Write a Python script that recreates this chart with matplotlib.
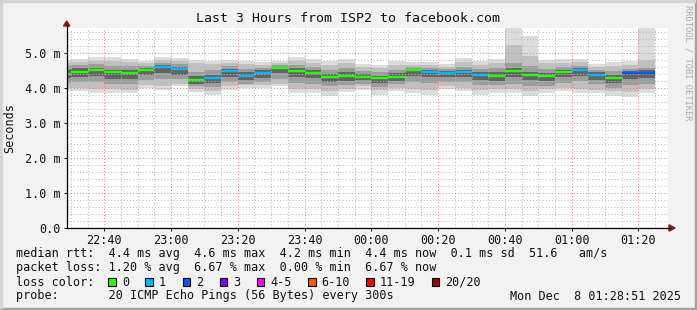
import numpy as np
import pandas as pd
import matplotlib
matplotlib.use("Agg")
import matplotlib.pyplot as plt
import matplotlib.dates as mdates
from matplotlib.lines import Line2D
from matplotlib.patches import Rectangle, Polygon
from matplotlib.ticker import MultipleLocator, FuncFormatter

plt.rcParams['font.family'] = ['DejaVu Sans Mono', 'DejaVu Sans']

# --- data (ms), one entry per 5 min step, first step is partial ---
t_start = pd.Timestamp("2025-12-07 22:28:51")
t_end = pd.Timestamp("2025-12-08 01:28:51")
bin_ends = pd.date_range("2025-12-07 22:30", "2025-12-08 01:25", freq="5min")

median = [4.40, 4.45, 4.50, 4.45, 4.42, 4.50, 4.59, 4.53, 4.22, 4.27, 4.47, 4.33,
          4.42, 4.57, 4.48, 4.42, 4.30, 4.33, 4.31, 4.27, 4.32, 4.50, 4.44, 4.42,
          4.44, 4.36, 4.33, 4.47, 4.36, 4.33, 4.44, 4.50, 4.36, 4.27, 4.42, 4.42]
loss = [0, 0, 0, 0, 0, 0, 1, 1, 0, 1, 1, 1, 1, 0, 0, 0, 0, 0, 0, 0, 0, 0, 1, 1,
        1, 1, 0, 0, 0, 0, 0, 1, 1, 0, 2, 2]

# smoke bands: (low, high) of outer .. inner ping pairs
smoke_min = [3.90, 3.90, 3.86, 3.86, 3.84, 4.00, 3.95, 4.05, 3.87, 3.81, 3.95, 4.00,
             4.00, 4.05, 3.86, 3.84, 3.78, 3.87, 3.95, 3.81, 3.90, 3.86, 3.81, 3.97,
             3.90, 3.81, 3.86, 3.86, 3.78, 3.86, 3.90, 3.86, 3.84, 3.76, 3.73, 3.86]
smoke_max = [4.81, 4.83, 4.87, 4.87, 4.83, 4.78, 4.88, 4.86, 4.81, 4.78, 4.81, 4.78,
             4.73, 4.78, 4.88, 4.83, 4.78, 4.83, 4.67, 4.65, 4.76, 4.74, 4.74, 4.67,
             4.85, 4.76, 4.83, 5.71, 5.48, 4.79, 4.83, 4.83, 4.69, 4.73, 4.76, 5.71]
p10 = [4.00, 4.00, 3.97, 3.98, 3.95, 4.08, 4.05, 4.12, 3.98, 3.92, 4.05, 4.08,
       4.08, 4.12, 3.98, 3.96, 3.92, 3.98, 4.04, 3.94, 4.00, 3.98, 3.94, 4.05,
       4.00, 3.94, 3.98, 3.98, 3.92, 3.98, 4.00, 3.98, 3.95, 3.90, 3.88, 3.98]
p90 = [4.72, 4.74, 4.77, 4.76, 4.73, 4.70, 4.80, 4.76, 4.70, 4.68, 4.72, 4.68,
       4.65, 4.70, 4.78, 4.72, 4.66, 4.72, 4.60, 4.58, 4.66, 4.66, 4.65, 4.60,
       4.74, 4.66, 4.72, 5.22, 4.90, 4.70, 4.72, 4.74, 4.60, 4.62, 4.66, 4.80]
p25 = [4.15, 4.17, 4.18, 4.12, 4.10, 4.22, 4.25, 4.25, 4.05, 4.02, 4.18, 4.12,
       4.17, 4.25, 4.15, 4.10, 4.05, 4.08, 4.12, 4.03, 4.10, 4.18, 4.15, 4.17,
       4.16, 4.08, 4.08, 4.12, 4.05, 4.06, 4.15, 4.20, 4.10, 4.00, 4.08, 4.12]
p75 = [4.62, 4.65, 4.68, 4.63, 4.62, 4.63, 4.72, 4.68, 4.45, 4.50, 4.63, 4.55,
       4.58, 4.66, 4.65, 4.60, 4.52, 4.57, 4.48, 4.45, 4.52, 4.60, 4.57, 4.53,
       4.60, 4.55, 4.58, 4.70, 4.62, 4.53, 4.60, 4.63, 4.52, 4.48, 4.55, 4.58]
p40 = [4.28, 4.30, 4.35, 4.25, 4.25, 4.38, 4.42, 4.38, 4.12, 4.15, 4.32, 4.22,
       4.28, 4.42, 4.32, 4.28, 4.18, 4.20, 4.22, 4.15, 4.20, 4.35, 4.30, 4.30,
       4.30, 4.22, 4.20, 4.30, 4.22, 4.20, 4.30, 4.35, 4.22, 4.15, 4.25, 4.28]
p60 = [4.52, 4.56, 4.58, 4.52, 4.52, 4.56, 4.65, 4.60, 4.33, 4.38, 4.55, 4.44,
       4.50, 4.60, 4.56, 4.50, 4.40, 4.44, 4.40, 4.35, 4.42, 4.54, 4.50, 4.48,
       4.52, 4.44, 4.44, 4.56, 4.46, 4.42, 4.52, 4.56, 4.44, 4.38, 4.48, 4.50]

loss_labels = ["0", "1", "2", "3", "4-5", "6-10", "11-19", "20/20"]
loss_colors = ["#26ff00", "#00b8ff", "#0059ff", "#7e00ff", "#ff00ff", "#ff5500",
               "#ff0000", "#a00000"]

title = "Last 3 Hours from ISP2 to facebook.com"
legend_lines = [
    "median rtt:  4.4 ms avg  4.6 ms max  4.2 ms min  4.4 ms now  0.1 ms sd  51.6   am/s",
    "packet loss: 1.20 % avg  6.67 % max  0.00 % min  6.67 % now",
    "loss color:",
    "probe:       20 ICMP Echo Pings (56 Bytes) every 300s",
]
stamp = "Mon Dec  8 01:28:51 2025"

# --- layout in pixels ---
W, H = 697, 310
def fx(x):
    return x / W
def fy(y):
    return 1 - y / H

fig = plt.figure(figsize=(W / 100, H / 100), dpi=100, facecolor="#f2f2f2")
ax = fig.add_axes([fx(67), fy(228), (668 - 67) / W, 200 / H])
ax.set_facecolor("white")

edges = mdates.date2num([t_start] + list(bin_ends))
bands = [(smoke_min, smoke_max, "#dcdcdc"), (p10, p90, "#c0c0c0"),
         (p25, p75, "#9c9c9c"), (p40, p60, "#636363")]
for lo, hi, c in bands:
    ax.stairs(hi, edges, baseline=lo, fill=True, color=c, lw=0, zorder=1)

med_colors = [loss_colors[min(l, 3)] for l in loss]
ax.hlines(median, edges[:-1], edges[1:], colors=med_colors, lw=1.7, zorder=4)

ax.set_xlim(mdates.date2num(t_start), mdates.date2num(t_end))
ax.set_ylim(0, 5.71)

ax.yaxis.set_major_locator(MultipleLocator(1.0))
ax.yaxis.set_minor_locator(MultipleLocator(0.2))
ax.yaxis.set_major_formatter(FuncFormatter(lambda v, p: "0.0" if v == 0 else "%.1f m" % v))
ax.xaxis.set_major_locator(mdates.MinuteLocator(byminute=[0, 20, 40]))
ax.xaxis.set_minor_locator(mdates.MinuteLocator(byminute=range(0, 60, 5)))
ax.xaxis.set_major_formatter(mdates.DateFormatter("%H:%M"))

ax.grid(which="minor", color="#bcbcbc", linestyle=(0, (1, 2)), lw=0.75, zorder=2)
ax.grid(which="major", color="#ee8080", linestyle=(0, (1, 2)), lw=0.75, zorder=2)
ax.set_axisbelow(False)

ax.tick_params(which="major", direction="out", length=2.5, width=0.7, pad=2,
               labelsize=8.5, colors="#111111")
ax.tick_params(which="minor", length=0)
for s in ax.spines.values():
    s.set_visible(False)

# axes lines with arrows
fig.add_artist(Line2D([fx(66.7), fx(670)], [fy(228), fy(228)], color="black", lw=0.9))
fig.add_artist(Line2D([fx(66.7), fx(66.7)], [fy(228), fy(25)], color="black", lw=0.9))
fig.add_artist(Polygon([[fx(63.5), fy(26)], [fx(69.9), fy(26)], [fx(66.7), fy(21)]],
                       closed=True, color="#8b1a1a", transform=fig.transFigure))
fig.add_artist(Polygon([[fx(669), fy(224.8)], [fx(669), fy(231.2)], [fx(675), fy(228)]],
                       closed=True, color="#8b1a1a", transform=fig.transFigure))

# texts
fig.text(fx(348), fy(19), title, ha="center", va="center", fontsize=9.5, color="#111111")
fig.text(fx(10), fy(128), "Seconds", rotation=90, ha="center", va="center",
         fontsize=8.5, color="#111111")
fig.text(fx(688), fy(5), "RRDTOOL / TOBI OETIKER", rotation=-90, ha="center", va="top",
         fontsize=6.3, color="#aaaaaa")

line_y = [254, 268, 282, 296]
for txt, y in zip(legend_lines, line_y):
    fig.text(fx(15.5), fy(y), txt, ha="left", va="center", fontsize=8.5, color="#111111")
fig.text(fx(681), fy(line_y[3]), stamp, ha="right", va="center", fontsize=8.5,
         color="#111111")

bx = 108.3
for lab, col in zip(loss_labels, loss_colors):
    fig.add_artist(Rectangle((fx(bx), fy(285.5)), 7.5 / W, 7.5 / H, facecolor=col,
                             edgecolor="black", lw=0.8, transform=fig.transFigure))
    fig.text(fx(bx + 13.5), fy(line_y[2]), lab, ha="left", va="center", fontsize=8.5,
             color="#111111")
    bx += 30 + 7.1 * len(lab)

# frame shading
fig.add_artist(Rectangle((0, 0), 1, 2.5 / H, color="#a0a0a0", transform=fig.transFigure))
fig.add_artist(Rectangle((1 - 2.5 / W, 0), 2.5 / W, 1, color="#a0a0a0",
                         transform=fig.transFigure))
fig.add_artist(Rectangle((0, 1 - 2 / H), 1 - 2.5 / W, 2 / H, color="#d4d4d4",
                         transform=fig.transFigure))
fig.add_artist(Rectangle((0, 2.5 / H), 2 / W, 1, color="#d4d4d4", transform=fig.transFigure))

fig.savefig("out.png", dpi=100, facecolor=fig.get_facecolor())
